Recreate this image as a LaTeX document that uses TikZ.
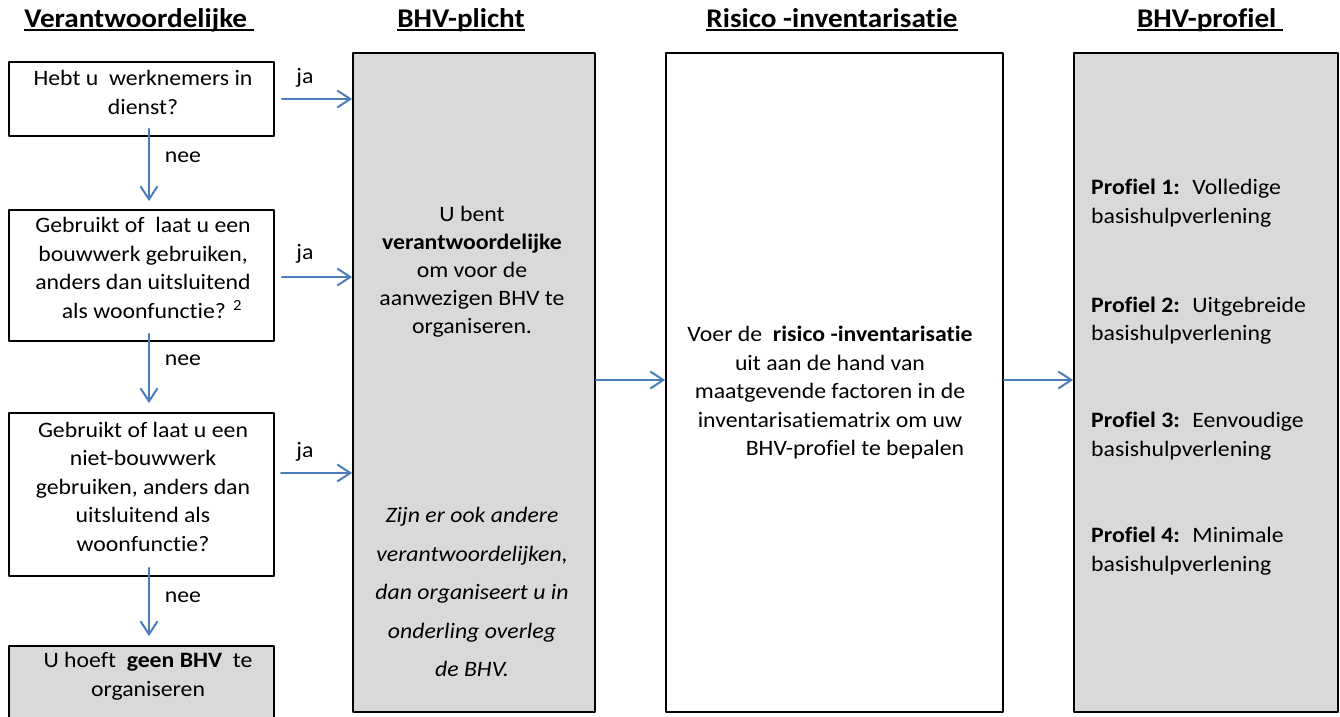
\documentclass[tikz,border=0pt]{standalone}
\usepackage{fontspec}
\setmainfont{Carlito}[FakeStretch=1.08,Ligatures=CommonOff]
\usetikzlibrary{arrows.meta}
\definecolor{pijlblauw}{HTML}{4A7EBB}
\definecolor{vakgrijs}{HTML}{D9D9D9}
\newcommand\onderstreept[1]{\setbox0\hbox{#1}\rlap{\rule[-3.5pt]{\wd0}{2pt}}\box0}
\tikzset{
  vak/.style={draw=black,line width=1.8pt,inner sep=0pt},
  grijsvak/.style={vak,fill=vakgrijs},
  tekst/.style={align=center,inner sep=0pt,font=\fontsize{22}{28.5}\selectfont},
  kop/.style={inner sep=0pt,font=\fontsize{27}{32}\selectfont\bfseries},
  pijl/.style={draw=pijlblauw,line width=2pt,-{Straight Barb[length=13pt,width=17pt]}},
}
\begin{document}
\begin{tikzpicture}[x=1pt,y=-1pt,line cap=round,line join=round]
\useasboundingbox (0,0) rectangle (1340,716);
%% Koppen
\node[kop] (kop1) at (139,20) {\onderstreept{Verantwoordelijke\ }};
\node[kop] (kop2) at (461,20) {\onderstreept{BHV-plicht}};
\node[kop] (kop3) at (832,20) {\onderstreept{Risico -inventarisatie}};
\node[kop] (kop4) at (1210,20) {\onderstreept{BHV-profiel\ }};
%% Vragen links
\node[vak,minimum width=265,minimum height=74] (vraag1) at (141.5,99) {};
\node[vak,minimum width=265,minimum height=131] (vraag2) at (141.5,275.5) {};
\node[vak,minimum width=265,minimum height=163] (vraag3) at (141.5,494.5) {};
\node[grijsvak,minimum width=265,minimum height=76] (geenbhv) at (141.5,684) {};
\node[tekst] (tvraag1) at (143,92.5) {Hebt u~ werknemers in\\dienst?};
\node[tekst] (tvraag2) at (143,268) {Gebruikt of~ laat u een\\bouwwerk gebruiken,\\anders dan uitsluitend\\\hspace*{18pt}als woonfunctie? \textsuperscript{2}};
\node[tekst] (tvraag3) at (143,486.5) {Gebruikt of laat u een\\niet-bouwwerk\\gebruiken, anders dan\\uitsluitend als\\woonfunctie?};
\node[tekst] (tgeenbhv) at (148,676) {U hoeft~ \textbf{geen BHV}~ te\\organiseren};
%% Kolommen
\node[grijsvak,minimum width=242,minimum height=659] (plicht) at (474,382.5) {};
\node[vak,minimum width=337,minimum height=659] (risico) at (834.5,382.5) {};
\node[grijsvak,minimum width=264,minimum height=659] (profiel) at (1206,382.5) {};
\node[tekst,font=\fontsize{22}{28}\selectfont] (tplicht) at (472,272) {U bent\\\textbf{verantwoordelijke}\\om voor de\\aanwezigen BHV te\\organiseren.};
\node[tekst,font=\fontsize{22}{38.5}\selectfont\itshape] (toverleg) at (472,592) {Zijn er ook andere\\verantwoordelijken,\\dan organiseert u in\\onderling overleg\\de BHV.};
\node[tekst] (trisico) at (830,393) {Voer de~ \textbf{risico -inventarisatie}\\uit aan de hand van\\maatgevende factoren in de\\inventarisatiematrix om uw\\\hspace*{50pt}BHV-profiel te bepalen};
\foreach \nr/\soort/\y in {1/Volledige/203,2/Uitgebreide/320.5,3/Eenvoudige/436,4/Minimale/551}
  \node[tekst,align=left,anchor=west] (tprofiel\nr) at (1091,\y) {\textbf{Profiel \nr:}~ \soort\\basishulpverlening};
%% Pijlen
\coordinate (ja3) at (281,473);
\draw[pijl] ([xshift=7pt]vraag1.east) -- (vraag1.east -| plicht.west);
\draw[pijl] ([xshift=7pt,yshift=-1.5pt]vraag2.east) -- ([yshift=-1.5pt]vraag2.east -| plicht.west);
\draw[pijl] (ja3) -- (ja3 -| plicht.west);
\draw[pijl] ([xshift=7.5pt,yshift=8pt]vraag1.south) -- ([xshift=7.5pt,yshift=8pt]vraag2.north);
\draw[pijl] ([xshift=7.5pt,yshift=8pt]vraag2.south) -- ([xshift=7.5pt,yshift=9pt]vraag3.north);
\draw[pijl] ([xshift=7.5pt,yshift=9pt]vraag3.south) -- ([xshift=7.5pt,yshift=9pt]geenbhv.north);
\draw[pijl] ([yshift=2.5pt]plicht.east) -- ([yshift=2.5pt]risico.west);
\draw[pijl] ([yshift=2.5pt]risico.east) -- ([yshift=2.5pt]profiel.west);
%% Labels ja / nee
\node[tekst] (ja1) at (305,78) {ja};
\node[tekst] (ja2) at (305,254) {ja};
\node[tekst] (ja3t) at (305,452) {ja};
\node[tekst] (nee1) at (183,157) {nee};
\node[tekst] (nee2) at (183,360) {nee};
\node[tekst] (nee3) at (183,597) {nee};
\end{tikzpicture}
\end{document}
